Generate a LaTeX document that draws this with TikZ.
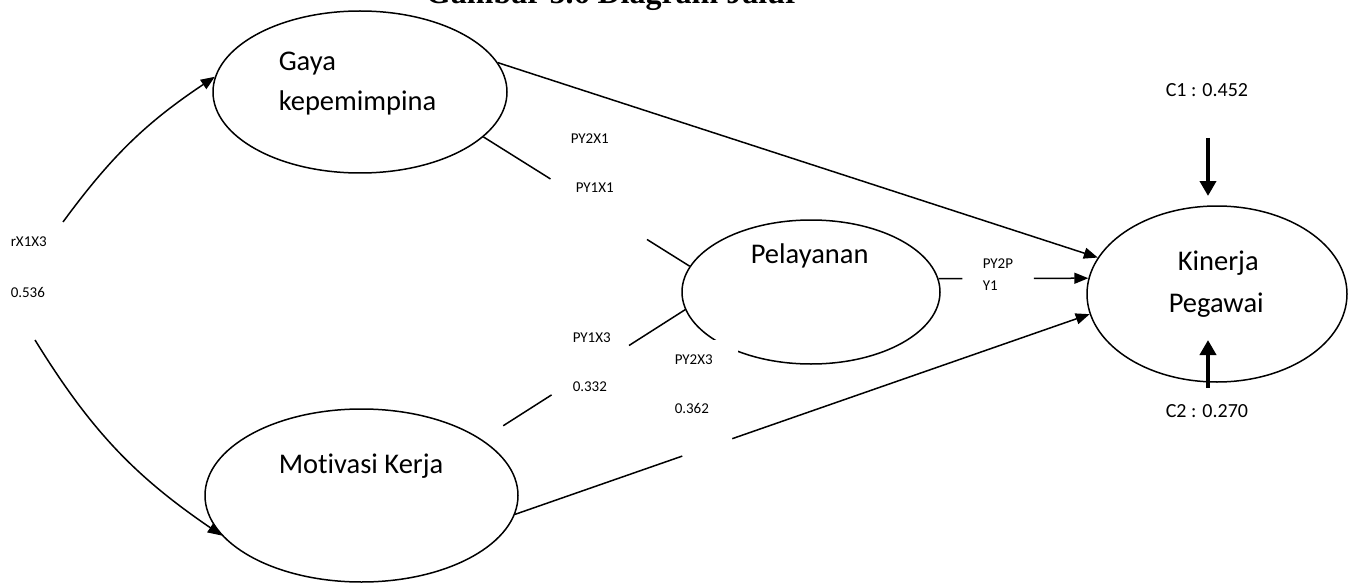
\documentclass[tikz,border=0pt]{standalone}
\usepackage{fontspec}
\setmainfont{Carlito}[Ligatures=NoCommon]
\newfontfamily\titlefont{Liberation Serif}
\usetikzlibrary{positioning,calc,arrows.meta,shapes.geometric}
\tikzstyle{edge} = [-{Triangle[length=14pt,width=11pt]}]
\tikzstyle{var} = [draw, ellipse, line width=1.5pt, inner sep=0pt]
\tikzstyle{err} = [line width=4pt, -{Triangle[length=15pt,width=16pt]}]

\begin{document}
\begin{tikzpicture}[x=1pt, y=-1pt, line width=1.5pt]
\tikzstyle{every node}=[inner sep=0pt]
\tikzstyle{big}=[anchor=base west, font=\fontsize{28.5}{34}\selectfont]
\tikzstyle{lbl}=[anchor=base west, font=\fontsize{15}{18}\selectfont]
\tikzstyle{clbl}=[anchor=base west, font=\fontsize{20}{24}\selectfont]
	\useasboundingbox (0,0) rectangle (1355,583);
	\clip (0,0) rectangle (1355,583);

	\node[anchor=base east, font=\titlefont\bfseries\fontsize{32}{38}\selectfont] (title) at (800,4) {Gambar 5.6 Diagram Jalur};

	\node[var, minimum width=294pt, minimum height=162pt] (gaya) at (360,92) {};
	\node[var, minimum width=313pt, minimum height=173pt] (mot) at (361.5,495.5) {};
	\node[var, minimum width=258pt, minimum height=144pt] (pel) at (811,292) {};
	\node[var, minimum width=260pt, minimum height=176pt] (kin) at (1217,294) {};

	\node[big] (gayaA) at (278,71) {Gaya};
	\node[big] (gayaB) at (278,111) {kepemimpina};
	\node[big] (motA) at (278,473) {Motivasi Kerja};
	\node[big] (pelA) at (750,263) {Pelayanan};
	\node[big] (kinA) at (1177,270) {Kinerja};
	\node[big] (kinB) at (1168,312) {Pegawai};

	% rX1X3
	\coordinate (r1) at (63,222);
	\coordinate (r2) at (35,340);
	\draw[edge] (r1) to[bend left=10] (gaya.174);
	\draw[edge] (r2) to[bend right=12] (mot.196);

	\draw[edge] (gaya.12) -- (kin.163);

	% broken paths
	\coordinate (g1) at ($(gaya.340)!0.325!(pel.168)$);
	\coordinate (g2) at ($(gaya.340)!0.793!(pel.168)$);
	\draw (gaya.340) -- (g1);
	\draw (g2) -- (pel.168);

	\coordinate (m1) at ($(mot.25)!0.105!(pel.188)$);
	\coordinate (m2) at ($(mot.25)!0.343!(pel.188)$);
	\coordinate (m3) at ($(mot.25)!0.724!(pel.188)$);
	\draw (m1) -- (m2);
	\draw (m3) -- (pel.188);

	\coordinate (k1) at ($(mot.353)!0.291!(kin.189)$);
	\coordinate (k2) at ($(mot.353)!0.378!(kin.189)$);
	\draw (mot.353) -- (k1);
	\draw[edge] (k2) -- (kin.189);

	\coordinate (p1) at ($(pel.6)!0.159!(kin.173)$);
	\coordinate (p2) at ($(pel.6)!0.636!(kin.173)$);
	\draw (pel.6) -- (p1);
	\draw[edge] (p2) -- (kin.173);

	% errors
	\coordinate (c1a) at (1208,138);
	\coordinate (c1b) at (1208,196);
	\coordinate (c2a) at (1208,388);
	\coordinate (c2b) at (1208,340);
	\draw[err] (c1a) -- (c1b);
	\draw[err] (c2a) -- (c2b);

	\node[lbl] (rx) at (10,246) {rX1X3};
	\node[lbl] (rxv) at (10,297) {0.536};
	\node[lbl] (py2x1) at (570,143) {PY2X1};
	\node[lbl] (py1x1) at (575,193) {PY1X1};
	\node[lbl] (py1x3) at (572,342) {PY1X3};
	\node[lbl] (py1x3v) at (572,391) {0.332};
	\node[lbl, anchor=north west, fill=white, text width=61pt, inner xsep=2pt, inner ysep=15pt, align=left] (py2x3) at (672,339) {PY2X3\\[31pt]0.362};
	\node[lbl] (py2p) at (982,268) {PY2P};
	\node[lbl] (py2pb) at (982,290) {Y1};
	\node[clbl] (c1) at (1165,97) {C1 : 0.452};
	\node[clbl] (c2) at (1165,417) {C2 : 0.270};
\end{tikzpicture}
\end{document}
